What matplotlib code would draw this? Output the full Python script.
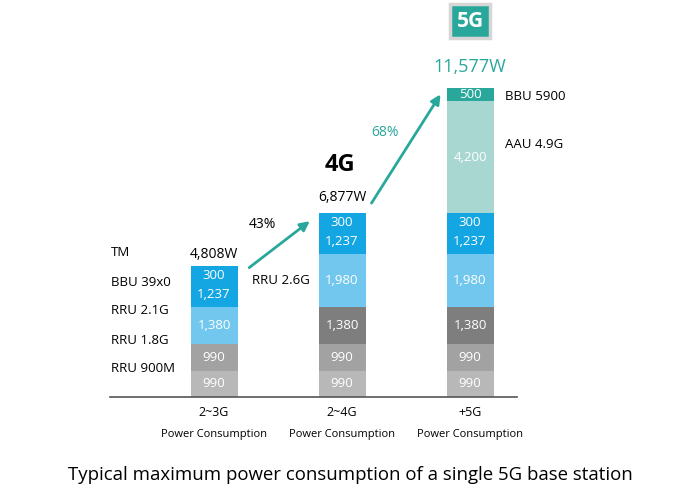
import matplotlib
matplotlib.use("Agg")
import matplotlib.pyplot as plt

plt.rcParams['font.family'] = ['Open Sans', 'DejaVu Sans']

# data
generations = ["2~3G", "2~4G", "+5G"]
seg_900m = [990, 990, 990]
seg_18g = [990, 990, 990]
seg_21g = [1380, 1380, 1380]
seg_26g = [0, 1980, 1980]
seg_bbu39 = [1537, 1537, 1537]      # 300 + 1,237
seg_aau49 = [0, 0, 4200]
seg_bbu59 = [0, 0, 500]
totals = ["4,808W", "6,877W", "11,577W"]
growth = ["43%", "68%"]
left_labels = ["TM", "BBU 39x0", "RRU 2.1G", "RRU 1.8G", "RRU 900M"]

c_g1 = "#b8b8b8"
c_g2 = "#a2a2a2"
c_g3 = "#7e7e7e"
c_lb = "#72c7ef"
c_bl = "#14a6e2"
c_pt = "#a8d7d2"
c_tl = "#2aa79b"

fig = plt.figure(figsize=(7, 5), dpi=100)
ax = fig.add_axes([0, 0, 1, 1])
px_x = 1 / 128.0
px_y = 37.47
ax.set_xlim(-214 * px_x, (700 - 214) * px_x)
ax.set_ylim(-103 * px_y, (500 - 103) * px_y)
ax.axis("off")

x = range(len(generations))
w = 47 * px_x
bottom = [0, 0, 0]
segments = [
    (seg_900m, [c_g1] * 3),
    (seg_18g, [c_g2] * 3),
    (seg_21g, [c_lb, c_g3, c_g3]),
    (seg_26g, [c_lb] * 3),
    (seg_bbu39, [c_bl] * 3),
    (seg_aau49, [c_pt] * 3),
    (seg_bbu59, [c_tl] * 3),
]
for vals, cols in segments:
    ax.bar(x, vals, w, bottom=bottom, color=cols, edgecolor="none")
    for i, v in enumerate(vals):
        if v == 0:
            continue
        mid = bottom[i] + v / 2
        if vals is seg_bbu39:
            ax.text(i, bottom[i] + v * 0.78, "300", color="white", ha="center", va="center", fontsize=9.5)
            ax.text(i, bottom[i] + v * 0.32, "1,237", color="white", ha="center", va="center", fontsize=9.5)
        else:
            ax.text(i, mid, f"{v:,}", color="white", ha="center", va="center", fontsize=9.5)
    bottom = [b + v for b, v in zip(bottom, vals)]

# baseline
ax.plot([(110 - 214) * px_x, (517 - 214) * px_x], [0, 0], color="#555555", lw=1.2)

# category labels
for i, g in enumerate(generations):
    ax.text(i, -16 * px_y, g, ha="center", va="center", fontsize=9)
    ax.text(i, -38 * px_y, "Power Consumption", ha="center", va="center", fontsize=8)

# totals
ax.text(0, bottom[0] + 12 * px_y, totals[0], ha="center", va="center", fontsize=10)
ax.text(1, bottom[1] + 16 * px_y, totals[1], ha="center", va="center", fontsize=10)
ax.text(2, bottom[2] + 21 * px_y, totals[2], ha="center", va="center", fontsize=13, color=c_tl)
ax.text(1 - 2 * px_x, bottom[1] + 48 * px_y, "4G", ha="center", va="center", fontsize=17, fontweight="bold")
ax.text(2, bottom[2] + 67 * px_y, "5G", ha="center", va="center", fontsize=15, color="white",
        fontweight="bold",
        bbox=dict(boxstyle="square,pad=0.3", fc=c_tl, ec="#d6d6d6", lw=2.5))

# growth arrows
ax.annotate("", xy=(1 - 30 * px_x, bottom[1] - 6 * px_y), xytext=(33 * px_x, bottom[0] - 3 * px_y),
            arrowprops=dict(arrowstyle="-|>", color=c_tl, lw=2, mutation_scale=14))
ax.annotate("", xy=(2 - 28 * px_x, bottom[2] - 4 * px_y), xytext=(1 + 28 * px_x, bottom[1] + 8 * px_y),
            arrowprops=dict(arrowstyle="-|>", color=c_tl, lw=2, mutation_scale=14))
ax.text(48 * px_x, 173 * px_y, growth[0], ha="center", va="center", fontsize=10)
ax.text(1 + 43 * px_x, 264 * px_y, growth[1], ha="center", va="center", fontsize=10, color=c_tl)

# side labels
ys = [145, 114, 86, 57, 28]
for lab, yy in zip(left_labels, ys):
    ax.text(-103 * px_x, yy * px_y, lab, ha="left", va="center", fontsize=9.5)
ax.text(38 * px_x, 116 * px_y, "RRU 2.6G", ha="left", va="center", fontsize=9.5)
ax.text(2 + 35 * px_x, 301 * px_y, "BBU 5900", ha="left", va="center", fontsize=9.5)
ax.text(2 + 35 * px_x, 252 * px_y, "AAU 4.9G", ha="left", va="center", fontsize=9.5)

fig.text(0.5, 25 / 500, "Typical maximum power consumption of a single 5G base station",
         ha="center", va="center", fontsize=13.4)

fig.savefig("out.png", dpi=100)
